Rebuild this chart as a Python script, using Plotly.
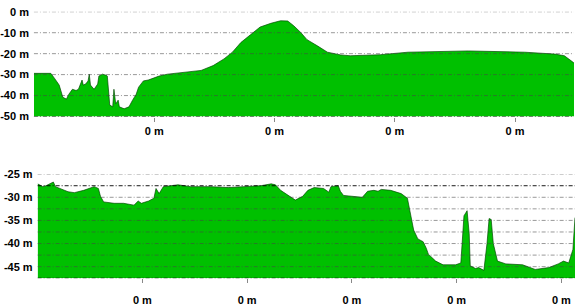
import plotly.graph_objects as go

# ---------------- data ----------------
# top profile: distance (tick units) and depth (m)
top_dist = [0.00, 0.14, 0.17, 0.21, 0.24, 0.27, 0.29, 0.32, 0.35, 0.37, 0.40, 0.41, 0.43, 0.45,
            0.46, 0.47, 0.50, 0.53, 0.54, 0.57, 0.60, 0.61, 0.63, 0.655, 0.665, 0.68, 0.70,
            0.71, 0.75, 0.79, 0.82, 0.85, 0.87, 0.91, 0.95, 1.04, 1.11, 1.24, 1.39, 1.49,
            1.58, 1.65, 1.72, 1.80, 1.88, 1.97, 2.05, 2.11, 2.16, 2.22, 2.27, 2.36, 2.44,
            2.55, 2.63, 2.88, 3.11, 3.61, 4.08, 4.33, 4.41, 4.48, 4.49]
top_depth = [-29.4, -29.4, -31.7, -35.0, -40.8, -41.7, -39.4, -37.0, -37.6, -37.0, -32.6, -35.0,
             -34.5, -33.0, -29.8, -35.0, -37.0, -34.5, -30.7, -29.8, -30.3, -30.7, -44.5, -45.4,
             -37.0, -44.0, -42.2, -45.4, -46.3, -45.4, -42.2, -39.4, -36.0, -33.0, -32.6, -30.7,
             -29.8, -28.9, -28.0, -25.7, -22.5, -19.3, -14.7, -11.0, -7.3, -5.5, -4.3, -4.4,
             -6.7, -10.0, -13.3, -16.4, -19.3, -20.6, -21.0, -20.5, -19.3, -18.7, -19.3, -20.2,
             -21.0, -24.0, -24.5]

# bottom profile
bot_dist = [0.00, 0.05, 0.08, 0.11, 0.15, 0.17, 0.22, 0.29, 0.35, 0.44, 0.54, 0.58, 0.60, 0.63,
            0.73, 0.82, 0.92, 0.96, 0.99, 1.06, 1.11, 1.13, 1.16, 1.20, 1.34, 1.46, 1.65, 1.82,
            1.97, 2.13, 2.23, 2.27, 2.32, 2.40, 2.46, 2.53, 2.58, 2.64, 2.73, 2.78, 2.80, 2.87,
            2.89, 2.92, 3.02, 3.10, 3.15, 3.21, 3.25, 3.28, 3.37, 3.47, 3.53, 3.56, 3.59, 3.63,
            3.68, 3.71, 3.73, 3.80, 3.87, 3.99, 4.04, 4.07, 4.10, 4.12, 4.13, 4.18, 4.21, 4.26,
            4.29, 4.31, 4.33, 4.35, 4.39, 4.47, 4.63, 4.75, 4.88, 4.97, 5.02, 5.07, 5.11, 5.13]
bot_depth = [-27.1, -27.7, -27.5, -27.1, -26.7, -27.7, -28.1, -28.8, -29.0, -28.5, -27.7, -28.1,
             -29.8, -31.0, -31.3, -31.3, -31.7, -30.8, -31.3, -30.8, -30.2, -28.1, -29.2, -27.7,
             -27.3, -27.7, -27.7, -27.9, -27.7, -27.5, -27.1, -27.3, -28.5, -29.8, -30.6, -29.8,
             -28.5, -27.9, -28.1, -28.9, -27.7, -27.5, -28.7, -29.6, -29.8, -30.0, -28.7, -28.5,
             -28.7, -28.3, -28.5, -29.2, -30.2, -33.8, -37.1, -39.0, -39.6, -41.0, -42.3, -43.8,
             -44.6, -44.6, -44.2, -34.0, -32.9, -37.9, -44.8, -45.4, -45.2, -45.8, -40.0, -34.6,
             -34.8, -40.0, -43.8, -44.4, -44.6, -45.6, -45.2, -44.4, -43.8, -44.2, -41.3, -34.4]

top_yticks = [0, -10, -20, -30, -40, -50]
top_ytext = ["0 m", "-10 m", "-20 m", "-30 m", "-40 m", "-50 m"]
bot_yticks = [-25, -30, -35, -40, -45]
bot_ytext = ["-25 m", "-30 m", "-35 m", "-40 m", "-45 m"]
bot_grid = [-25, -27.5, -30, -32.5, -35, -37.5, -40, -42.5, -45]
top_xticks = [1, 2, 3, 4]
bot_xticks = [1, 2, 3, 4, 5]

GREEN = "#00c000"
EDGE = "rgba(0,70,0,0.85)"
FONT = dict(family="Liberation Sans, Arial, sans-serif", size=11, color="#000", weight="bold")
DASH = "4px,2px,1px,2px"

fig = go.Figure()

# top
fig.add_trace(go.Scatter(x=top_dist, y=[-50] * len(top_dist), mode="lines",
                         line=dict(width=0), hoverinfo="skip", showlegend=False,
                         xaxis="x", yaxis="y"))
fig.add_trace(go.Scatter(x=top_dist, y=top_depth, mode="lines", fill="tonexty",
                         fillcolor=GREEN, line=dict(color=EDGE, width=0.8),
                         showlegend=False, xaxis="x", yaxis="y"))
# bottom
fig.add_trace(go.Scatter(x=bot_dist, y=[-47.5] * len(bot_dist), mode="lines",
                         line=dict(width=0), hoverinfo="skip", showlegend=False,
                         xaxis="x2", yaxis="y2"))
fig.add_trace(go.Scatter(x=bot_dist, y=bot_depth, mode="lines", fill="tonexty",
                         fillcolor=GREEN, line=dict(color=EDGE, width=0.8),
                         showlegend=False, xaxis="x2", yaxis="y2"))

shapes = []
for v in top_yticks:
    dark = v == -50
    shapes.append(dict(type="line", xref="x domain", x0=0, x1=1, yref="y", y0=v, y1=v,
                       layer="above",
                       line=dict(color="rgba(0,0,0,0.9)" if dark else "rgba(70,70,70,0.55)",
                                 width=1, dash=DASH)))
for v in bot_grid + [-47.5]:
    dark = v in (-27.5, -47.5)
    shapes.append(dict(type="line", xref="x2 domain", x0=0, x1=1, yref="y2", y0=v, y1=v,
                       layer="above",
                       line=dict(color="rgba(0,0,0,0.9)" if dark else "rgba(70,70,70,0.55)",
                                 width=1, dash=DASH)))

W, H = 575, 307
fig.update_layout(
    width=W, height=H,
    margin=dict(l=0, r=0, t=0, b=0),
    paper_bgcolor="white", plot_bgcolor="white",
    shapes=shapes,
    xaxis=dict(domain=[33 / W, 574 / W], range=[0, 4.49], tickvals=top_xticks,
               ticktext=["0 m"] * len(top_xticks), showgrid=False, zeroline=False,
               ticks="outside", ticklen=4, tickcolor="#888", tickfont=FONT, anchor="y"),
    yaxis=dict(domain=[1 - 115 / H, 1 - 6 / H], range=[-50, 0], tickvals=top_yticks,
               ticktext=top_ytext, showgrid=False, zeroline=False, tickfont=FONT,
               anchor="x", ticks="", ticklabelstandoff=4),
    xaxis2=dict(domain=[36.7 / W, 1], range=[0, 5.13], tickvals=bot_xticks,
                ticktext=["0 m"] * len(bot_xticks), showgrid=False, zeroline=False,
                ticks="outside", ticklen=4, tickcolor="#888", tickfont=FONT, anchor="y2",
                ticklabelstandoff=8),
    yaxis2=dict(domain=[1 - 283.3 / H, 1 - 175 / H], range=[-47.5, -25], tickvals=bot_yticks,
                ticktext=bot_ytext, showgrid=False, zeroline=False, tickfont=FONT,
                anchor="x2", ticks="", ticklabelstandoff=4),
)

fig.write_html("out.html")
